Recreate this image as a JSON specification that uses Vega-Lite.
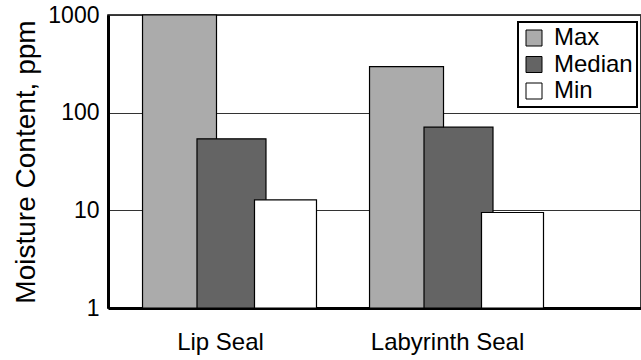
{
  "$schema": "https://vega.github.io/schema/vega-lite/v6.json",
  "width": 533,
  "height": 293,
  "autosize": {"type": "none"},
  "padding": {"left": 108, "top": 15, "right": 0, "bottom": 52},
  "background": "white",
  "config": {
    "font": "Liberation Sans",
    "view": {"stroke": "black", "strokeWidth": 1.5}
  },
  "data": {
    "values": [
      {"Seal": "Lip Seal", "Series": "Max", "Value": 1000},
      {"Seal": "Lip Seal", "Series": "Median", "Value": 54},
      {"Seal": "Lip Seal", "Series": "Min", "Value": 12.8},
      {"Seal": "Labyrinth Seal", "Series": "Max", "Value": 296},
      {"Seal": "Labyrinth Seal", "Series": "Median", "Value": 71},
      {"Seal": "Labyrinth Seal", "Series": "Min", "Value": 9.5}
    ]
  },
  "encoding": {
    "x": {
      "field": "Seal",
      "type": "nominal",
      "sort": ["Lip Seal", "Labyrinth Seal"],
      "scale": {"paddingInner": 0.3789, "paddingOuter": 0.3634, "align": 0.4545},
      "axis": {
        "title": null,
        "labelAngle": 0,
        "labelFontSize": 24,
        "labelColor": "black",
        "labelPadding": 22,
        "labelOffset": -33,
        "ticks": false,
        "grid": false,
        "domainColor": "black",
        "domainWidth": 3
      }
    },
    "xOffset": {
      "field": "Series",
      "type": "nominal",
      "sort": ["Max", "Median", "Min"],
      "scale": {"domain": ["Max", "Median", "Min"], "paddingInner": 0, "paddingOuter": 0}
    },
    "y": {
      "field": "Value",
      "type": "quantitative",
      "scale": {"type": "log", "domain": [1, 1000]},
      "axis": {
        "title": "Moisture Content, ppm",
        "titleFontSize": 28,
        "titleFontWeight": "normal",
        "titleColor": "black",
        "titlePadding": 7,
        "values": [1, 10, 100, 1000],
        "format": "d",
        "labelFontSize": 23,
        "labelColor": "black",
        "labelPadding": 9,
        "ticks": false,
        "grid": true,
        "gridColor": "#333333",
        "gridWidth": 1,
        "domainColor": "black",
        "domainWidth": 3
      }
    },
    "y2": {"datum": 1},
    "color": {
      "field": "Series",
      "type": "nominal",
      "sort": ["Max", "Median", "Min"],
      "scale": {"domain": ["Max", "Median", "Min"], "range": ["#ababab", "#646464", "#ffffff"]},
      "legend": {
        "title": null,
        "orient": "none",
        "legendX": 410,
        "legendY": 7,
        "fillColor": "white",
        "strokeColor": "black",
        "padding": 4,
        "symbolType": "square",
        "symbolSize": 256,
        "symbolStrokeColor": "black",
        "symbolStrokeWidth": 1,
        "labelFontSize": 24,
        "labelColor": "black",
        "labelOffset": 8,
        "rowPadding": 2.5,
        "encode": {"legend": {"update": {"strokeWidth": {"value": 2}}}}
      }
    }
  },
  "layer": [
    {
      "transform": [{"filter": "datum.Series === 'Max'"}],
      "mark": {"type": "bar", "width": {"band": 1.574}, "stroke": "black", "strokeWidth": 1.2}
    },
    {
      "transform": [{"filter": "datum.Series === 'Median'"}],
      "mark": {"type": "bar", "width": {"band": 1.468}, "stroke": "black", "strokeWidth": 1.2}
    },
    {
      "transform": [{"filter": "datum.Series === 'Min'"}],
      "mark": {"type": "bar", "width": {"band": 1.319}, "stroke": "black", "strokeWidth": 1.2}
    }
  ]
}
